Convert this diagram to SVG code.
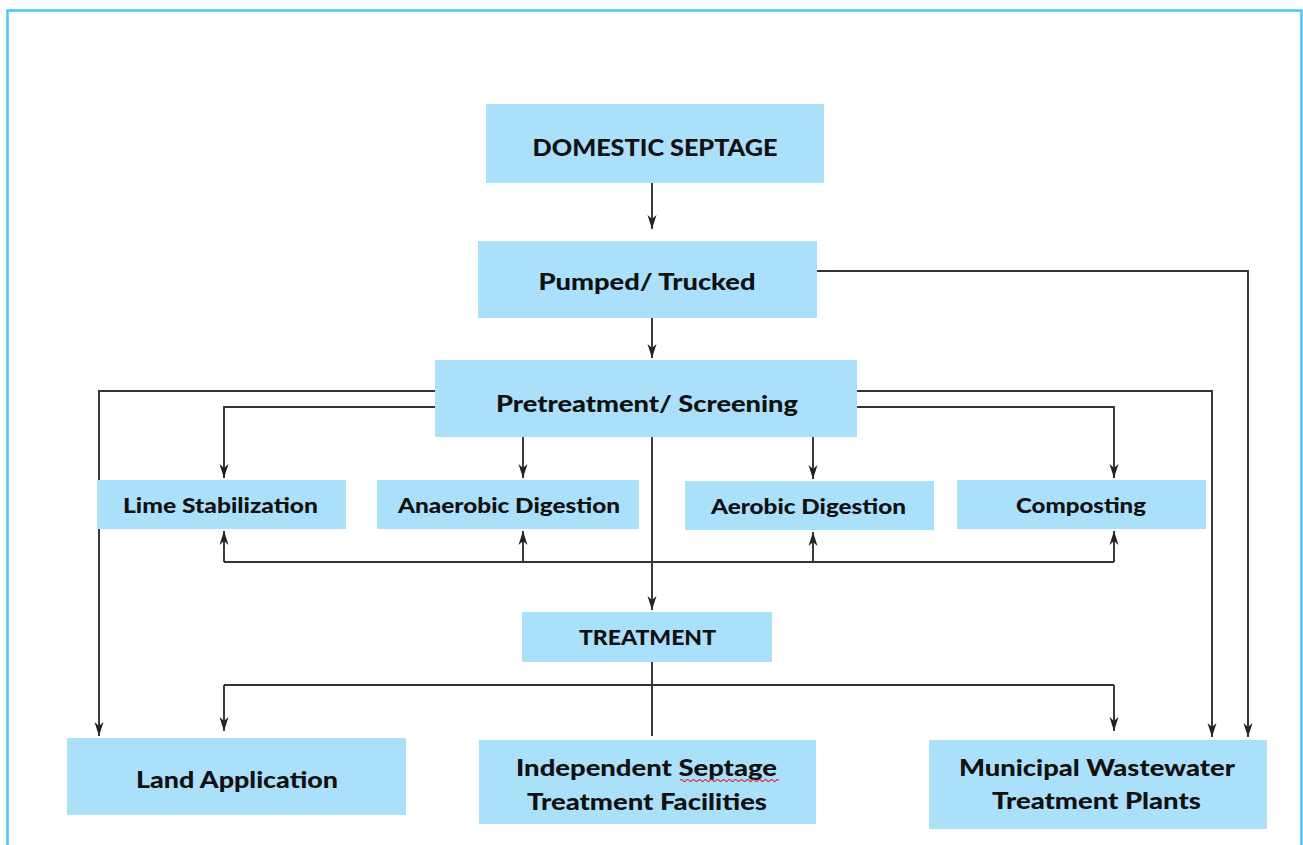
<svg xmlns="http://www.w3.org/2000/svg" width="1303" height="845" viewBox="0 0 1303 845">
<style>
.box{fill:#abe0fa;}
.t{font-family:Lato,"Open Sans","Liberation Sans",sans-serif;font-weight:900;fill:#111;text-anchor:middle;}
.c{fill:none;stroke:#333;stroke-width:1.9;}
.a{marker-end:url(#ah);}
</style>
<defs>
<marker id="ah" markerUnits="userSpaceOnUse" markerWidth="16" markerHeight="12" refX="14" refY="5" orient="auto">
<path d="M0,0.5 L14,5 L0,9.5 L4,5 z" fill="#222"/>
</marker>
</defs>
<rect x="0" y="0" width="1303" height="845" fill="#fff"/>
<rect x="7.5" y="10.5" width="1294" height="850" fill="none" stroke="#45c8f5" stroke-width="2.5"/>

<g id="connectors">
<path class="c a" d="M652,183 V229"/>
<path class="c a" d="M652,318 V358"/>
<path class="c a" d="M816,271 H1248 V737"/>
<path class="c a" d="M435,391 H99 V736"/>
<path class="c a" d="M856,391 H1212 V737"/>
<path class="c a" d="M435,407 H224 V478"/>
<path class="c a" d="M856,407 H1114 V478"/>
<path class="c a" d="M523,437 V478"/>
<path class="c a" d="M813,437 V479"/>
<path class="c a" d="M652,437 V610"/>
<path class="c" d="M224,562 H1114"/>
<path class="c a" d="M224,562 V531"/>
<path class="c a" d="M523,562 V531"/>
<path class="c a" d="M813,562 V532"/>
<path class="c a" d="M1114,562 V531"/>
<path class="c" d="M652,662 V736"/>
<path class="c" d="M224,685 H1114"/>
<path class="c a" d="M224,685 V731"/>
<path class="c a" d="M1114,685 V731"/>
</g>

<g id="domestic-septage">
<rect class="box" x="486" y="104" width="338" height="79"/>
<text class="t" x="655" y="156" font-size="23" textLength="245" lengthAdjust="spacingAndGlyphs">DOMESTIC SEPTAGE</text>
</g>
<g id="pumped-trucked">
<rect class="box" x="478" y="241" width="339" height="77"/>
<text class="t" x="647" y="290" font-size="23" textLength="217" lengthAdjust="spacingAndGlyphs">Pumped/ Trucked</text>
</g>
<g id="pretreatment">
<rect class="box" x="435" y="360" width="422" height="77"/>
<text class="t" x="647" y="412" font-size="23" textLength="302" lengthAdjust="spacingAndGlyphs">Pretreatment/ Screening</text>
</g>
<g id="lime">
<rect class="box" x="97" y="480" width="249" height="49"/>
<text class="t" x="220.5" y="513" font-size="20" textLength="195" lengthAdjust="spacingAndGlyphs">Lime Stabilization</text>
</g>
<g id="anaerobic">
<rect class="box" x="377" y="480" width="262" height="49"/>
<text class="t" x="509" y="513" font-size="20" textLength="222" lengthAdjust="spacingAndGlyphs">Anaerobic Digestion</text>
</g>
<g id="aerobic">
<rect class="box" x="685" y="481" width="249" height="49"/>
<text class="t" x="808.5" y="514" font-size="20" textLength="195" lengthAdjust="spacingAndGlyphs">Aerobic Digestion</text>
</g>
<g id="composting">
<rect class="box" x="957" y="480" width="249" height="49"/>
<text class="t" x="1081" y="513" font-size="20" textLength="130" lengthAdjust="spacingAndGlyphs">Composting</text>
</g>
<g id="treatment">
<rect class="box" x="522" y="612" width="250" height="50"/>
<text class="t" x="647.5" y="645" font-size="20" textLength="137" lengthAdjust="spacingAndGlyphs">TREATMENT</text>
</g>
<g id="land-application">
<rect class="box" x="67" y="738" width="339" height="77"/>
<text class="t" x="237" y="788" font-size="23" textLength="202" lengthAdjust="spacingAndGlyphs">Land Application</text>
</g>
<g id="independent">
<rect class="box" x="479" y="740" width="337" height="84"/>
<text class="t" x="646.5" y="776" font-size="23" textLength="261" lengthAdjust="spacingAndGlyphs">Independent Septage</text>
<text class="t" x="647" y="810" font-size="23" textLength="240" lengthAdjust="spacingAndGlyphs">Treatment Facilities</text>
<path d="M680,780.5 q1.5,-2 3,0 t3,0 t3,0 t3,0 t3,0 t3,0 t3,0 t3,0 t3,0 t3,0 t3,0 t3,0 t3,0 t3,0 t3,0 t3,0 t3,0 t3,0 t3,0 t3,0 t3,0 t3,0 t3,0 t3,0 t3,0 t3,0 t3,0 t3,0 t3,0 t3,0 t3,0 t3,0 t3,0" fill="none" stroke="#e0202a" stroke-width="1.2"/>
</g>
<g id="municipal">
<rect class="box" x="929" y="740" width="338" height="89"/>
<text class="t" x="1097" y="776" font-size="23" textLength="276" lengthAdjust="spacingAndGlyphs">Municipal Wastewater</text>
<text class="t" x="1096.5" y="809" font-size="23" textLength="209" lengthAdjust="spacingAndGlyphs">Treatment Plants</text>
</g>
</svg>
